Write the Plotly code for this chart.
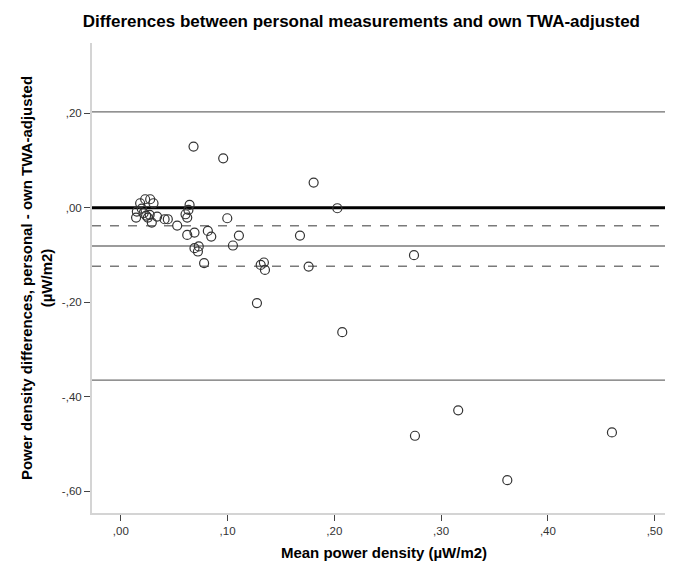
import plotly.graph_objects as go

# Data (Bland-Altman style plot)
mean_x = [0.0681, 0.0959, 0.0181, 0.0228, 0.0275, 0.0306, 0.0150, 0.0143, 0.0213, 0.0237,
          0.0253, 0.0290, 0.0340, 0.0410, 0.0440, 0.0528, 0.0644, 0.0633, 0.0606, 0.0622,
          0.0997, 0.0622, 0.0690, 0.0815, 0.0847, 0.1106, 0.1050, 0.0690, 0.0730, 0.0722,
          0.0780, 0.1806, 0.2028, 0.1678, 0.2746, 0.1310, 0.1340, 0.1350, 0.1759, 0.1275,
          0.2074, 0.2755, 0.3160, 0.3620, 0.4600, 0.0196, 0.0270]
diff_y = [0.1295, 0.1048, 0.0095, 0.0180, 0.0180, 0.0095, -0.0080, -0.0207, -0.0116, -0.0166,
          -0.0207, -0.0314, -0.0187, -0.0243, -0.0243, -0.0377, 0.0060, -0.0046, -0.0138, -0.0207,
          -0.0222, -0.0575, -0.0525, -0.0490, -0.0610, -0.0589, -0.0800, -0.0857, -0.0820, -0.0927,
          -0.1175, 0.0533, -0.0010, -0.0589, -0.1005, -0.1210, -0.1160, -0.1316, -0.1245, -0.2020,
          -0.2635, -0.4830, -0.4290, -0.5770, -0.4760, -0.0020, -0.0150]

zero_line = 0.0
mean_diff = -0.081
ci_lines = [-0.038, -0.124]
loa_lines = [0.203, -0.365]

x_tickvals = [0.0, 0.1, 0.2, 0.3, 0.4, 0.5]
x_ticktext = [",00", ",10", ",20", ",30", ",40", ",50"]
y_tickvals = [0.2, 0.0, -0.2, -0.4, -0.6]
y_ticktext = [",20", ",00", "-,20", "-,40", "-,60"]

FONT = "Liberation Sans, Arial, sans-serif"

fig = go.Figure()

for v in loa_lines:
    fig.add_hline(y=v, line=dict(color="#6e6e6e", width=1.2), layer="below")
fig.add_hline(y=mean_diff, line=dict(color="#7a7a7a", width=1.6), layer="below")
for v in ci_lines:
    fig.add_hline(y=v, line=dict(color="#7a7a7a", width=1.6, dash="dash"), layer="below")
fig.add_hline(y=zero_line, line=dict(color="black", width=3), layer="below")

fig.add_trace(go.Scatter(
    x=mean_x, y=diff_y, mode="markers",
    marker=dict(symbol="circle-open", size=9, color="#333333", line=dict(width=1.2)),
    showlegend=False, hoverinfo="x+y"))

fig.update_layout(
    width=673, height=561,
    paper_bgcolor="white", plot_bgcolor="white",
    margin=dict(l=84, r=5, t=35, b=56),
    font=dict(family=FONT, color="#222222"),
    title=dict(text="<b>Differences between personal measurements and own TWA-adjusted</b>",
               x=0.525, xanchor="center", y=0.977, yanchor="middle",
               font=dict(size=17, color="black", family=FONT)),
    xaxis=dict(range=[-0.027, 0.52], tickvals=x_tickvals, ticktext=x_ticktext,
               ticks="outside", ticklen=6, tickcolor="#444444", tickwidth=1,
               showgrid=False, zeroline=False, showline=True, linecolor="#d4d4d4", linewidth=2,
               tickfont=dict(size=11.5, color="#333333"),
               title=dict(text="<b>Mean power density (µW/m2)</b>", standoff=12,
                          font=dict(size=15, color="black"))),
    yaxis=dict(range=[-0.6466, 0.349], tickvals=y_tickvals, ticktext=y_ticktext,
               ticks="outside", ticklen=6, tickcolor="#444444", tickwidth=1,
               showgrid=False, zeroline=False, showline=True, linecolor="#d4d4d4", linewidth=2,
               tickfont=dict(size=11.5, color="#333333"),
               title=dict(text="<b>Power density differences, personal - own TWA-adjusted<br>(µW/m2)</b>",
                          standoff=6, font=dict(size=15, color="black"))),
)

fig.write_html("out.html")
